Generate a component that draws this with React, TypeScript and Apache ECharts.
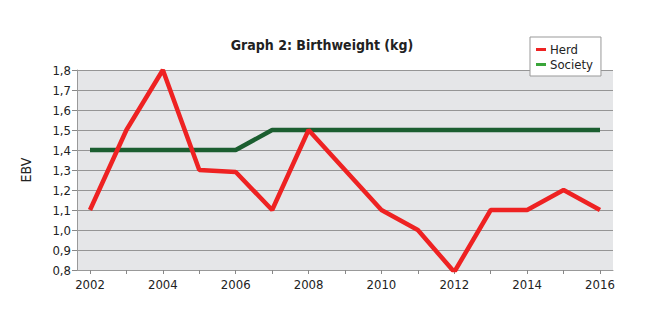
import React, { useEffect, useRef } from "react";
import * as echarts from "echarts";

const years = [2002, 2003, 2004, 2005, 2006, 2007, 2008, 2009, 2010, 2011, 2012, 2013, 2014, 2015, 2016];
const herd = [1.1, 1.5, 1.8, 1.3, 1.29, 1.1, 1.5, 1.3, 1.1, 1.0, 0.79, 1.1, 1.1, 1.2, 1.1];
const society = [1.4, 1.4, 1.4, 1.4, 1.4, 1.5, 1.5, 1.5, 1.5, 1.5, 1.5, 1.5, 1.5, 1.5, 1.5];
const xLabelYears = [2002, 2004, 2006, 2008, 2010, 2012, 2014, 2016];

const FONT = "'DejaVu Sans Condensed', 'Liberation Sans Narrow', Roboto, sans-serif";

export default function App() {
  const ref = useRef<HTMLDivElement>(null);
  useEffect(() => {
    if (!ref.current) return;
    const chart = echarts.init(ref.current, undefined, { renderer: "svg" });
    chart.setOption({
      animation: false,
      backgroundColor: "#ffffff",
      title: {
        text: "Graph 2: Birthweight (kg)",
        left: 317,
        top: 33,
        textAlign: "center",
        textStyle: { fontFamily: FONT, fontSize: 14, fontWeight: "bold", color: "#222" },
      },
      legend: {
        left: 530,
        top: 37,
        orient: "vertical",
        backgroundColor: "#ffffff",
        borderColor: "#999",
        borderWidth: 1,
        borderRadius: 0,
        padding: [6, 8, 5, 6],
        itemGap: 2,
        itemWidth: 10,
        itemHeight: 3,
        icon: "rect",
        textStyle: { fontFamily: FONT, fontSize: 13, color: "#222", padding: [0, 0, 0, -1] },
        data: [
          { name: "Herd", itemStyle: { color: "#ee2222" } },
          { name: "Society", itemStyle: { color: "#3aa53a" } },
        ],
      },
      grid: {
        left: 77,
        right: 32,
        top: 70,
        bottom: 58,
        show: true,
        backgroundColor: "#e5e6e8",
        borderWidth: 0,
      },
      xAxis: {
        type: "value",
        min: 2001.643,
        max: 2016.357,
        axisLine: { show: true, lineStyle: { color: "#999", width: 1 } },
        axisTick: { show: true, length: 4, lineStyle: { color: "#888" }, customValues: years },
        axisLabel: {
          customValues: xLabelYears,
          formatter: (v: number) => String(Math.round(v)),
          fontFamily: FONT,
          fontSize: 13,
          color: "#222",
          margin: 8,
        },
        splitLine: { show: false },
      },
      yAxis: {
        type: "value",
        min: 0.8,
        max: 1.8,
        interval: 0.1,
        name: "EBV",
        nameLocation: "middle",
        nameGap: 44,
        nameTextStyle: { fontFamily: FONT, fontSize: 14, color: "#222" },
        axisLine: { show: true, lineStyle: { color: "#999", width: 1 } },
        axisTick: { show: true, length: 5, lineStyle: { color: "#888" } },
        axisLabel: {
          fontFamily: FONT,
          fontSize: 13,
          color: "#222",
          margin: 6,
          formatter: (v: number) => v.toFixed(1).replace(".", ","),
        },
        splitLine: { show: true, lineStyle: { color: "#959595", width: 1 } },
      },
      series: [
        {
          name: "Society",
          type: "line",
          data: years.map((y, i) => [y, society[i]]),
          showSymbol: false,
          symbol: "none",
          lineStyle: { color: "#1b5e30", width: 4.5 },
          itemStyle: { color: "#1b5e30" },
          z: 2,
        },
        {
          name: "Herd",
          type: "line",
          data: years.map((y, i) => [y, herd[i]]),
          showSymbol: false,
          symbol: "none",
          lineStyle: { color: "#ee2222", width: 4.5 },
          itemStyle: { color: "#ee2222" },
          z: 3,
        },
      ],
    });
    return () => chart.dispose();
  }, []);
  return <div ref={ref} style={{ position: "fixed", left: 0, top: 0, width: 645, height: 328 }} />;
}
